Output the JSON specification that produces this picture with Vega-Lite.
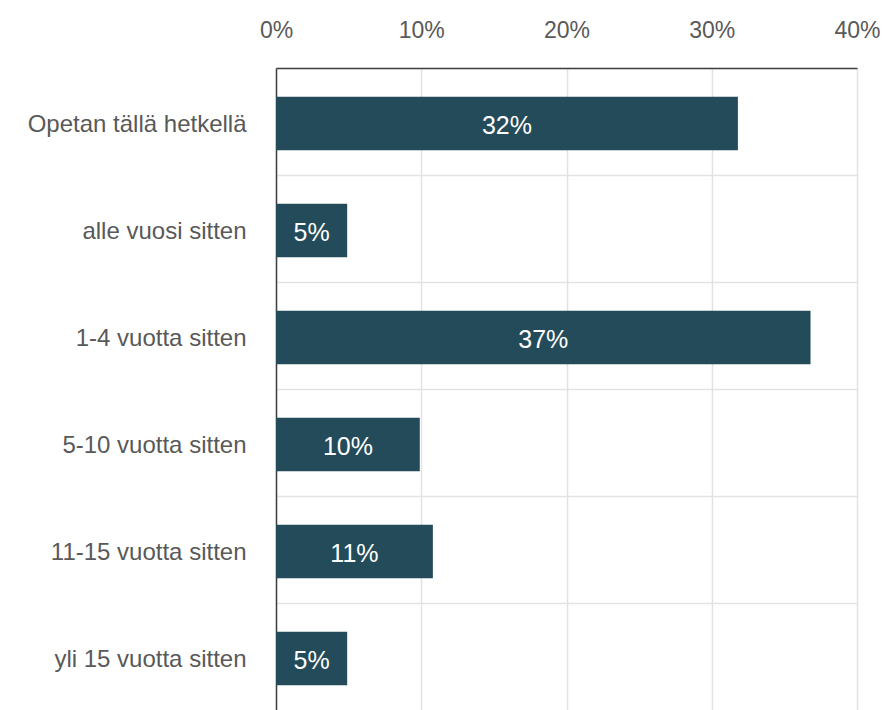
{
  "$schema": "https://vega.github.io/schema/vega-lite/v6.json",
  "width": 581,
  "height": 642,
  "autosize": {"type": "none"},
  "padding": {"left": 276, "top": 68, "right": 25, "bottom": 0},
  "background": "white",
  "config": {
    "view": {"stroke": null},
    "font": "Liberation Sans"
  },
  "data": {
    "values": [
      {"category": "Opetan tällä hetkellä", "value": 0.318, "label": "32%"},
      {"category": "alle vuosi sitten", "value": 0.049, "label": "5%"},
      {"category": "1-4 vuotta sitten", "value": 0.368, "label": "37%"},
      {"category": "5-10 vuotta sitten", "value": 0.099, "label": "10%"},
      {"category": "11-15 vuotta sitten", "value": 0.108, "label": "11%"},
      {"category": "yli 15 vuotta sitten", "value": 0.049, "label": "5%"}
    ]
  },
  "encoding": {
    "y": {
      "field": "category",
      "type": "nominal",
      "sort": null,
      "title": null,
      "scale": {"paddingInner": 0, "paddingOuter": 0},
      "axis": {
        "grid": true,
        "bandPosition": 0,
        "gridColor": "#e3e3e3",
        "gridWidth": 1.5,
        "ticks": false,
        "domainColor": "#404040",
        "domainWidth": 1.5,
        "labelFontSize": 24,
        "labelColor": "#595959",
        "labelPadding": 30,
        "labelOffset": 3,
        "labelLimit": 300,
        "labelFont": "Liberation Sans"
      }
    }
  },
  "layer": [
    {
      "mark": {"type": "bar", "color": "#234b5a", "height": {"band": 0.5}, "yOffset": 2},
      "encoding": {
        "x": {
          "field": "value",
          "type": "quantitative",
          "title": null,
          "scale": {"domain": [0, 0.4], "nice": false},
          "axis": {
            "orient": "top",
            "values": [0, 0.1, 0.2, 0.3, 0.4],
            "format": ".0%",
            "grid": true,
            "gridColor": "#e3e3e3",
            "gridWidth": 1.5,
            "ticks": false,
            "domainColor": "#404040",
            "domainWidth": 1.5,
            "labelFontSize": 23,
            "labelColor": "#595959",
            "labelPadding": 26,
            "labelFont": "Liberation Sans",
            "labelFlush": false
          }
        }
      }
    },
    {
      "mark": {"type": "text", "color": "white", "fontSize": 25, "align": "center", "baseline": "middle", "font": "Liberation Sans", "dy": 4},
      "encoding": {
        "x": {
          "field": "value",
          "type": "quantitative",
          "scale": {"domain": [0, 0.8], "nice": false},
          "axis": null
        },
        "text": {"field": "label"}
      }
    }
  ],
  "resolve": {"scale": {"x": "independent"}}
}
